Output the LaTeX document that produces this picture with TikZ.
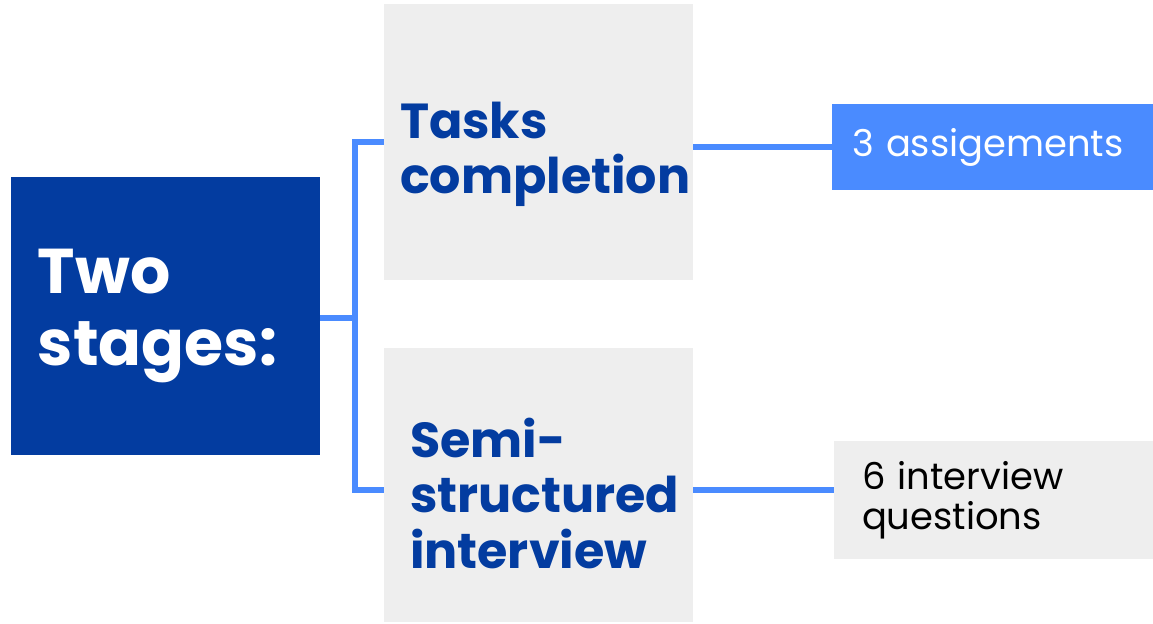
\documentclass[tikz,border=0pt]{standalone}
\usepackage{fontspec}
\setmainfont{Poppins}
\usetikzlibrary{calc}
\tikzset{>=latex}

\definecolor{darkblue}{RGB}{3,60,160}
\definecolor{lightblue}{RGB}{74,139,255}
\definecolor{boxgray}{RGB}{238,238,238}

\tikzset{
    stagebox/.style={fill=boxgray, draw=none, align=left, anchor=center},
    link/.style={draw=lightblue, line width=3.4pt}
}

\begin{document}
\begin{tikzpicture}[]

    \useasboundingbox (0,0) rectangle (23.06,-12.46);

    % left block
    \node[fill=darkblue, text=white, align=left, inner xsep=0.54cm,
          text width=5.10cm, minimum height=5.56cm,
          font=\fontsize{36}{41}\selectfont\bfseries]
          (stages) at (3.31,-6.32) {Two\\stages:};

    % the two stages (text sits a little below the middle)
    \node[stagebox, inner xsep=0.32cm, text width=5.54cm, minimum height=5.52cm,
          text height=35pt,
          text=darkblue, font=\fontsize{28}{31}\selectfont\bfseries]
          (tasks) at (10.77,-2.84) {Tasks\\completion};

    \node[stagebox, inner xsep=0.52cm, text width=5.14cm, minimum height=5.48cm,
          text height=32pt,
          text=darkblue, font=\fontsize{28}{31.5}\selectfont\bfseries]
          (semi) at (10.77,-9.70) {Semi-\\structured\\interview};

    % what each stage holds
    \node[fill=lightblue, text=white, align=left, inner xsep=0.40cm,
          text width=5.62cm, minimum height=1.72cm,
          font=\fontsize{21}{23}\selectfont]
          (assign) at (19.85,-2.94) {3 assigements};

    \node[stagebox, inner xsep=0.56cm, text width=5.26cm, minimum height=2.36cm,
          text=black, font=\fontsize{21}{23}\selectfont]
          (interview) at (19.87,-10.00) {6 interview\\questions};

    % connectors
    \coordinate (split) at (7.10,-6.36);
    \coordinate (qlink) at (15.0,-9.80);
    \draw[link] (stages.east |- split) -- (split);
    \draw[link] (split) |- (tasks.west);
    \draw[link] (split) |- (semi.west |- qlink);
    \draw[link] (tasks.east |- assign.west) -- (assign.west);
    \draw[link] (semi.east |- qlink) -- (interview.west |- qlink);

\end{tikzpicture}
\end{document}
